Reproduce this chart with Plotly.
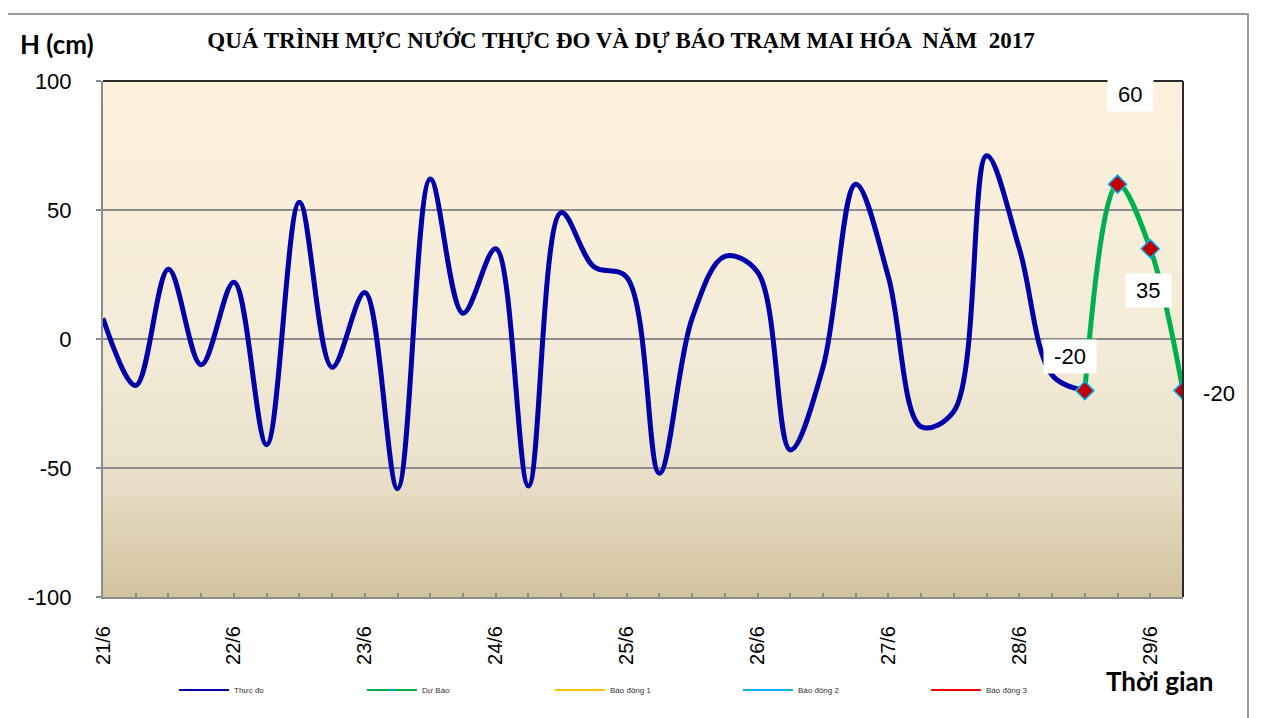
import plotly.graph_objects as go
import pandas as pd

# ---------------- data ----------------
observed_start = "2017-06-21 00:00"
observed_values = [8, -18, 27, -10, 22, -41, 53, -11, 18, -58, 62, 10, 35, -57, 49,
                   28, 24, -52, 8, 32, 26, -43, -11, 60, 24, -34, -28, 71, 35, -14, -20]
forecast_start = "2017-06-28 12:00"
forecast_values = [-20, 60, 35, -20]
day_ticks = ["2017-06-21", "2017-06-22", "2017-06-23", "2017-06-24", "2017-06-25",
             "2017-06-26", "2017-06-27", "2017-06-28", "2017-06-29"]
day_labels = ["21/6", "22/6", "23/6", "24/6", "25/6", "26/6", "27/6", "28/6", "29/6"]
y_ticks = [-100, -50, 0, 50, 100]
y_labels = ["-100", "-50", "0", "50", "100"]
legend_names = ["Thực đo", "Dự Báo", "Báo động 1", "Báo động 2", "Báo động 3"]
title_text = "QUÁ TRÌNH MỰC NƯỚC THỰC ĐO VÀ DỰ BÁO TRẠM MAI HÓA  NĂM  2017"

observed_times = pd.date_range(observed_start, periods=len(observed_values), freq="6h")
forecast_times = pd.date_range(forecast_start, periods=len(forecast_values), freq="6h")

# ---------------- styles ----------------
BLUE = "#0000A8"
GREEN = "#00B050"
YELLOW = "#FFC000"
CYAN = "#00B0F0"
RED = "#FF0000"
DARKRED = "#C00000"
GRID = "#8C8C8C"

label_shifts = [(-15, 34), (13, 90), (-2, -42), (36, -3)]

# page is offset by the 8px body margin
OFF = 8
W, H = 1262 - OFF, 718 - OFF
ml, mt = 103 - OFF, 81 - OFF
pw, ph = 1080, 516
mr = W - ml - pw
mb = H - mt - ph


def px_x(p):  # reference page pixel -> paper x
    return (p - OFF - ml) / pw


def px_y(p):  # reference page pixel -> paper y
    return (H - mb - (p - OFF)) / ph


fig = go.Figure()

fig.add_trace(go.Scatter(
    x=observed_times, y=observed_values, mode="lines", name=legend_names[0],
    showlegend=False, legendgroup="obs",
    line=dict(color=BLUE, width=5, shape="spline", smoothing=1.0)))

fig.add_trace(go.Scatter(
    x=forecast_times, y=forecast_values, mode="lines+markers", name=legend_names[1],
    showlegend=False, legendgroup="fc",
    line=dict(color=GREEN, width=5, shape="spline", smoothing=1.0),
    marker=dict(symbol="diamond", size=14, color=DARKRED, line=dict(color=CYAN, width=1.5))))

# legend entries
fig.add_trace(go.Scatter(x=[None], y=[None], mode="lines", name=legend_names[0],
                         legendgroup="obs", line=dict(color=BLUE, width=2)))
fig.add_trace(go.Scatter(x=[None], y=[None], mode="lines+markers", name=legend_names[1],
                         legendgroup="fc", line=dict(color=GREEN, width=2),
                         marker=dict(symbol="circle", size=3, color=CYAN)))
for nm, col in zip(legend_names[2:], [YELLOW, CYAN, RED]):
    fig.add_trace(go.Scatter(x=[None], y=[None], mode="lines", name=nm,
                             line=dict(color=col, width=2)))

# data labels for the forecast
for t, v, (dx, dy) in zip(forecast_times, forecast_values, label_shifts):
    fig.add_annotation(x=t, y=v, xref="x", yref="y", text=f" {v} ", showarrow=False,
                       xshift=dx, yshift=dy, bgcolor="white", borderpad=4,
                       font=dict(family="Liberation Sans, Arial", size=22, color="black"))

# gradient background of the plot area
top = (253, 241, 221)
stops = [(0.0, (210, 195, 156)), (0.25, (234, 225, 203)), (0.5, (244, 236, 216)), (1.0, top)]


def col_at(f):
    for (f0, c0), (f1, c1) in zip(stops[:-1], stops[1:]):
        if f0 <= f <= f1:
            u = (f - f0) / (f1 - f0)
            return "rgb(%d,%d,%d)" % tuple(round(a + (b - a) * u) for a, b in zip(c0, c1))
    return "rgb(%d,%d,%d)" % top


N = 100
for i in range(N):
    f0 = i / N
    f1 = (i + 1) / N
    fig.add_shape(type="rect", xref="x domain", yref="y domain", x0=0, x1=1, y0=f0,
                  y1=min(1, f1 + 0.002), fillcolor=col_at((f0 + f1) / 2), line=dict(width=0),
                  layer="below")

# top and right border of plot area
fig.add_shape(type="line", xref="x domain", yref="y domain", x0=0, x1=1, y0=1, y1=1,
              line=dict(color="#2A2A2A", width=2), layer="above")
fig.add_shape(type="line", xref="x domain", yref="y domain", x0=1, x1=1, y0=0, y1=1,
              line=dict(color="#2A2A2A", width=2), layer="above")

# outer chart border
fig.add_shape(type="rect", xref="paper", yref="paper", x0=px_x(6), x1=px_x(1248),
              y0=px_y(740), y1=px_y(14), line=dict(color="#9A9A9A", width=2),
              fillcolor="rgba(0,0,0,0)", layer="below")

# axis titles
fig.add_annotation(text="<b>H (cm)</b>", xref="paper", yref="paper", x=px_x(57), y=px_y(44),
                   xanchor="center", yanchor="middle", showarrow=False,
                   font=dict(family="Lato", size=26, color="black"))
fig.add_annotation(text="<b>Thời gian</b>", xref="paper", yref="paper", x=px_x(1159), y=px_y(681),
                   xanchor="center", yanchor="middle", showarrow=False,
                   font=dict(family="Lato", size=26, color="black"))

fig.update_layout(
    width=W, height=H,
    margin=dict(l=ml, r=mr, t=mt, b=mb),
    paper_bgcolor="white", plot_bgcolor="rgba(0,0,0,0)",
    title=dict(text="<b>" + title_text + "</b>", x=px_x(621), xref="paper", xanchor="center",
               y=1 - (40 - OFF) / H, yanchor="middle",
               font=dict(family="Liberation Serif, Times New Roman", size=23, color="black")),
    showlegend=True,
    legend=dict(orientation="h", x=px_x(174), xanchor="left", y=px_y(690), yanchor="middle",
                entrywidth=123, entrywidthmode="pixels", itemwidth=50,
                font=dict(family="Liberation Sans, Arial", size=8, color="#333333"),
                bgcolor="rgba(0,0,0,0)"),
    font=dict(family="Liberation Sans, Arial"),
)

fig.update_xaxes(
    range=[observed_times[0], forecast_times[-1]],
    tickvals=pd.to_datetime(day_ticks), ticktext=day_labels, tickangle=-90,
    ticks="inside", ticklen=4, tickcolor=GRID, tickwidth=1.5,
    minor=dict(dtick=6 * 3600 * 1000, ticks="inside", ticklen=4, tickcolor=GRID, tickwidth=1.5,
               showgrid=False),
    showline=True, linecolor=GRID, linewidth=2, showgrid=False, zeroline=False,
    ticklabelstandoff=19,
    tickfont=dict(family="Liberation Sans, Arial", size=20, color="black"),
)
fig.update_yaxes(
    range=[-100, 100], tickvals=y_ticks, ticktext=y_labels,
    ticks="outside", ticklen=5, tickcolor=GRID, tickwidth=1.5,
    showline=True, linecolor=GRID, linewidth=2,
    showgrid=True, gridcolor=GRID, gridwidth=1.5, zeroline=False,
    ticklabelstandoff=20,
    tickfont=dict(family="Liberation Sans, Arial", size=22, color="black"),
)

fig.write_html("out.html")
